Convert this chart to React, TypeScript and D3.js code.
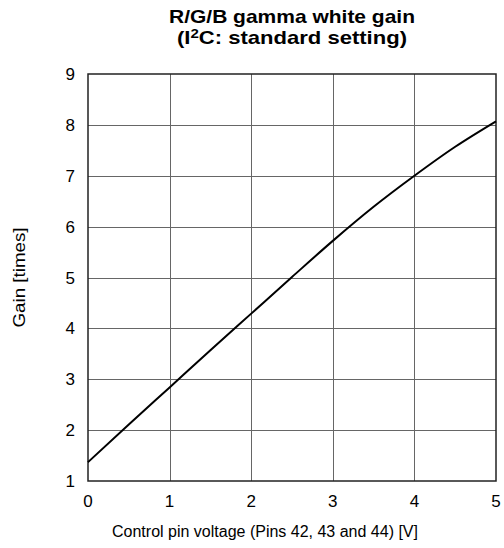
import React, { useEffect, useRef } from 'react';
import * as d3 from 'd3';

// control pin voltage [V]
const voltage = [0, 0.5, 1, 1.5, 2, 2.5, 3, 3.5, 4, 4.5, 5];
// gain [times]
const gain = [1.37, 2.11, 2.84, 3.57, 4.29, 5.01, 5.72, 6.39, 7.0, 7.57, 8.07];

const xTicks = [0, 1, 2, 3, 4, 5];
const yTicks = [1, 2, 3, 4, 5, 6, 7, 8, 9];

const W = 504;
const H = 548;

const App: React.FC = () => {
  const svgRef = useRef<SVGSVGElement>(null);

  useEffect(() => {
    if (!svgRef.current) return;
    const svg = d3.select(svgRef.current);
    svg.selectAll('*').remove();

    const left = 88, right = 496, top = 74, bottom = 481;
    const font = "'Liberation Sans', Arial, sans-serif";
    const cx = (left + right) / 2;

    const x = d3.scaleLinear().domain([0, 5]).range([left, right]);
    const y = d3.scaleLinear().domain([1, 9]).range([bottom, top]);

    // Title (two lines, bold, a bit wide in the original)
    svg.append('text')
      .attr('x', cx).attr('y', 23)
      .attr('text-anchor', 'middle')
      .attr('font-family', font).attr('font-weight', 'bold').attr('font-size', 19)
      .attr('textLength', 246).attr('lengthAdjust', 'spacingAndGlyphs')
      .text('R/G/B gamma white gain');
    const l2 = svg.append('text')
      .attr('x', cx).attr('y', 44)
      .attr('text-anchor', 'middle')
      .attr('font-family', font).attr('font-weight', 'bold').attr('font-size', 19)
      .attr('textLength', 230).attr('lengthAdjust', 'spacingAndGlyphs');
    l2.append('tspan').text('(I');
    l2.append('tspan').attr('font-size', 13).attr('dy', -6).text('2');
    l2.append('tspan').attr('dy', 6).text('C: standard setting)');

    // Grid
    const grid = svg.append('g').attr('stroke', '#666').attr('stroke-width', 1);
    grid.selectAll('line.v').data(xTicks.slice(1, -1)).join('line')
      .attr('class', 'v')
      .attr('x1', d => Math.round(x(d)) + 0.5).attr('x2', d => Math.round(x(d)) + 0.5)
      .attr('y1', top).attr('y2', bottom);
    grid.selectAll('line.h').data(yTicks.slice(1, -1)).join('line')
      .attr('class', 'h')
      .attr('y1', d => Math.round(y(d)) + 0.5).attr('y2', d => Math.round(y(d)) + 0.5)
      .attr('x1', left).attr('x2', right);

    // Frame
    svg.append('rect')
      .attr('x', left).attr('y', top)
      .attr('width', right - left).attr('height', bottom - top)
      .attr('fill', 'none').attr('stroke', '#222').attr('stroke-width', 1.5);

    // Tick labels
    svg.append('g').selectAll('text').data(yTicks).join('text')
      .attr('x', 75).attr('y', d => y(d) + 6)
      .attr('text-anchor', 'end')
      .attr('font-family', font).attr('font-size', 17)
      .text(d => d);
    svg.append('g').selectAll('text').data(xTicks).join('text')
      .attr('x', d => x(d)).attr('y', 507)
      .attr('text-anchor', 'middle')
      .attr('font-family', font).attr('font-size', 17)
      .text(d => d);

    // Axis titles
    svg.append('text')
      .attr('x', cx - 27).attr('y', 537)
      .attr('text-anchor', 'middle')
      .attr('font-family', font).attr('font-size', 16)
      .text('Control pin voltage (Pins 42, 43 and 44) [V]');
    svg.append('text')
      .attr('transform', `translate(25,${(top + bottom) / 2}) rotate(-90)`)
      .attr('text-anchor', 'middle')
      .attr('font-family', font).attr('font-size', 17)
      .attr('textLength', 100).attr('lengthAdjust', 'spacingAndGlyphs')
      .text('Gain [times]');

    // Curve
    const line = d3.line<number>()
      .x((_, i) => x(voltage[i]))
      .y(d => y(d))
      .curve(d3.curveMonotoneX);
    svg.append('path')
      .datum(gain)
      .attr('fill', 'none')
      .attr('stroke', '#000')
      .attr('stroke-width', 2)
      .attr('d', line);
  }, []);

  return (
    <svg
      ref={svgRef}
      width={W}
      height={H}
      style={{ position: 'absolute', left: 0, top: 0, background: '#fff' }}
    />
  );
};

export default App;
